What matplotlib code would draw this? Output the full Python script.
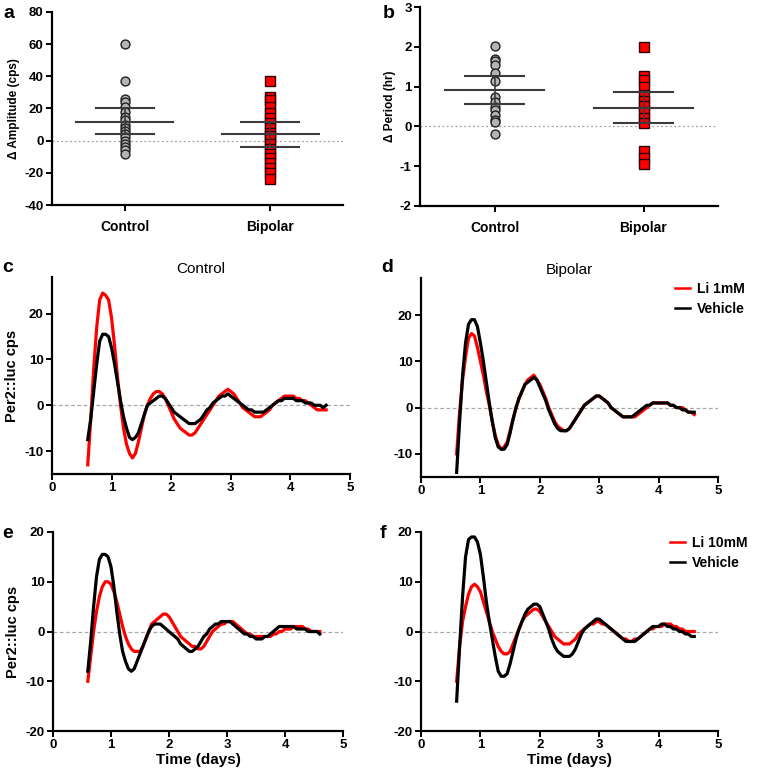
import matplotlib
matplotlib.use("Agg")
import matplotlib.pyplot as plt
import numpy as np

plt.rcParams['font.family'] = ['Liberation Sans', 'DejaVu Sans']
plt.rcParams['font.weight'] = 'bold'
plt.rcParams['axes.unicode_minus'] = False

# ---------------- data: scatter panels ----------------
groups = ["Control", "Bipolar"]
amp_control = [60, 37, 26, 24, 21, 18, 15, 13, 10, 8, 6, 4, 2, 0, -2, -4, -6, -8]
amp_bipolar = [37, 27, 25, 21, 17, 14, 11, 8, 5, 3, 1, -2, -5, -8, -11, -14, -17, -20, -24]
amp_mean = [11.9, 4.2]
amp_sem_hi = [20.0, 11.8]
amp_sem_lo = [4.0, -3.7]

per_control = [2.03, 1.70, 1.64, 1.55, 1.35, 1.15, 0.75, 0.62, 0.48, 0.40, 0.28, 0.15, 0.10, -0.20]
per_bipolar = [2.0, 1.27, 1.17, 1.0, 0.80, 0.65, 0.5, 0.35, 0.2, 0.08, -0.62, -0.80, -0.95]
per_mean = [0.92, 0.46]
per_sem_hi = [1.26, 0.87]
per_sem_lo = [0.57, 0.08]

# ---------------- data: time courses (days, cps) ----------------
time_days = [0.60, 0.65, 0.70, 0.75, 0.80, 0.85, 0.90, 0.95, 1.00, 1.05,
             1.10, 1.15, 1.20, 1.25, 1.30, 1.35, 1.40, 1.45, 1.50, 1.55,
             1.60, 1.65, 1.70, 1.75, 1.80, 1.85, 1.90, 1.95, 2.00, 2.05,
             2.10, 2.15, 2.20, 2.25, 2.30, 2.35, 2.40, 2.45, 2.50, 2.55,
             2.60, 2.65, 2.70, 2.75, 2.80, 2.85, 2.90, 2.95, 3.00, 3.05,
             3.10, 3.15, 3.20, 3.25, 3.30, 3.35, 3.40, 3.45, 3.50, 3.55,
             3.60, 3.65, 3.70, 3.75, 3.80, 3.85, 3.90, 3.95, 4.00, 4.05,
             4.10, 4.15, 4.20, 4.25, 4.30, 4.35, 4.40, 4.45, 4.50, 4.55, 4.60]

c_li1 = [-13, -3, 8, 17, 23, 24.5, 24, 23, 19, 13,
         6, 0, -5, -8.5, -10.5, -11.5, -10.5, -8, -5, -2,
         0, 1.5, 2.5, 3, 3, 2.5, 1.5, 0, -1.5, -3,
         -4, -5, -5.5, -6, -6.5, -6.5, -6, -5, -4, -3,
         -2, -1, 0, 1, 2, 2.5, 3, 3.5, 3, 2.5,
         1.5, 0.5, -0.5, -1, -1.5, -2, -2.5, -2.5, -2.5, -2,
         -1.5, -1, 0, 0.5, 1, 1.5, 2, 2, 2, 2,
         1.5, 1.5, 1, 1, 0.5, 0, -0.5, -1, -1, -1, -1]
c_veh = [-7.5, -3, 3, 9, 14, 15.5, 15.5, 15, 12.5, 9,
         5, 1, -2.5, -5, -7, -7.5, -7, -6, -4, -2,
         0, 0.5, 1, 1.5, 2, 2, 1.5, 0.5, -0.5, -1.5,
         -2, -2.5, -3, -3.5, -4, -4, -4, -3.5, -3, -2,
         -1, -0.5, 0.5, 1, 1.5, 2, 2, 2.5, 2, 1.5,
         1, 0.5, 0, -0.5, -1, -1, -1.5, -1.5, -1.5, -1.5,
         -1, -0.5, 0, 0.5, 1, 1, 1.5, 1.5, 1.5, 1.5,
         1, 1, 1, 0.5, 0.5, 0.5, 0, 0, 0, -0.5, 0]

d_li1 = [-10, -1, 6, 11, 15, 16, 15.5, 13, 10, 7,
         3.5, 0.5, -3, -6, -8, -9, -8.5, -7.5, -5, -2.5,
         0, 2, 3.5, 5, 6, 6.5, 7, 6, 5, 3.5,
         2, 0, -1.5, -3, -4, -4.5, -5, -5, -4.5, -3.5,
         -2.5, -1.5, -0.5, 0.5, 1, 1.5, 2, 2.5, 2.5, 2,
         1.5, 1, 0, -0.5, -1, -1.5, -2, -2, -2, -2,
         -2, -1.5, -1, -0.5, 0, 0.5, 1, 1, 1, 1,
         1, 1, 0.5, 0.5, 0, 0, 0, -0.5, -1, -1, -1.5]
d_veh = [-14, -3, 7, 14, 18, 19, 19, 17.5, 14, 10,
         5.5, 1, -3, -6.5, -8.5, -9, -9, -8, -5.5, -2.5,
         0, 2, 3.5, 5, 5.5, 6, 6.5, 6, 4.5, 3,
         1.5, -0.5, -2, -3.5, -4.5, -5, -5, -5, -4.5, -3.5,
         -2.5, -1.5, -0.5, 0.5, 1, 1.5, 2, 2.5, 2.5, 2,
         1.5, 1, 0, -0.5, -1, -1.5, -2, -2, -2, -2,
         -1.5, -1, -0.5, 0, 0.5, 0.5, 1, 1, 1, 1,
         1, 1, 0.5, 0.5, 0, 0, -0.5, -0.5, -1, -1, -1]

e_li10 = [-10, -5, 0, 4, 7, 9, 10, 10, 9.5, 8,
          6, 3.5, 1, -1, -2.5, -3.5, -4, -4, -4, -3,
          -1.5, 0, 1.5, 2, 2.5, 3, 3.5, 3.5, 3, 2,
          1, 0, -1, -1.5, -2, -2.5, -3, -3, -3.5, -3.5,
          -3, -2, -1, 0, 0.5, 1, 1.5, 1.5, 2, 2,
          2, 1.5, 1, 0.5, 0, -0.5, -0.5, -1, -1, -1,
          -1, -1, -1, -1, -0.5, -0.5, 0, 0, 0.5, 0.5,
          0.5, 1, 1, 1, 1, 0.5, 0.5, 0, 0, 0, 0]
e_veh = [-8, -2, 5, 11, 14.5, 15.5, 15.5, 15, 13, 9,
         4, -0.5, -4, -6, -7.5, -8, -7.5, -6, -4.5, -3,
         -1.5, 0, 1, 1.5, 1.5, 1.5, 1, 0.5, 0, -0.5,
         -1, -1.5, -2.5, -3, -3.5, -4, -4, -3.5, -3, -2,
         -1, -0.5, 0.5, 1, 1.5, 1.5, 2, 2, 2, 2,
         1.5, 1, 0.5, 0, -0.5, -0.5, -1, -1, -1.5, -1.5,
         -1.5, -1, -1, -0.5, 0, 0.5, 1, 1, 1, 1,
         1, 1, 0.5, 0.5, 0.5, 0.5, 0, 0, 0, 0, -0.5]

f_li10 = [-10, -3, 2, 5, 7.5, 9, 9.5, 9, 8, 6,
          4, 2, 0, -1.5, -3, -4, -4.5, -4.5, -4, -2.5,
          -1, 0.5, 2, 3, 3.5, 4, 4.5, 4.5, 4, 3,
          2, 1, 0, -1, -1.5, -2, -2.5, -2.5, -2.5, -2,
          -1.5, -0.5, 0, 0.5, 1, 1.5, 1.5, 2, 2, 1.5,
          1.5, 1, 0.5, 0, -0.5, -1, -1.5, -1.5, -2, -2,
          -1.5, -1.5, -1, -0.5, 0, 0.5, 0.5, 1, 1, 1,
          1.5, 1.5, 1.5, 1, 1, 0.5, 0.5, 0, 0, 0, 0]
f_veh = [-14, -3, 7, 15, 18.5, 19, 19, 18, 15.5, 11,
         6, 2, -1.5, -5, -8, -9, -9, -8.5, -6.5, -4,
         -1.5, 0.5, 2, 3.5, 4.5, 5, 5.5, 5.5, 5, 3.5,
         2, 0.5, -1.5, -3, -4, -4.5, -5, -5, -5, -4.5,
         -3.5, -2, -0.5, 0.5, 1, 1.5, 2, 2.5, 2.5, 2,
         1.5, 1, 0.5, 0, -0.5, -1, -1.5, -2, -2, -2,
         -2, -1.5, -1, -0.5, 0, 0.5, 1, 1, 1, 1.5,
         1.5, 1, 1, 0.5, 0.5, 0, 0, -0.5, -0.5, -1, -1]

legend_top = ["Li 1mM", "Vehicle"]
legend_bottom = ["Li 10mM", "Vehicle"]

# ---------------- figure ----------------
W, H = 758, 776
fig = plt.figure(figsize=(W / 100, H / 100), dpi=100)

def axes_px(left, top, right, bottom):
    return fig.add_axes([left / W, 1 - bottom / H, (right - left) / W, (bottom - top) / H])

def style(ax):
    for s in ['top', 'right']:
        ax.spines[s].set_visible(False)
    for s in ['left', 'bottom']:
        ax.spines[s].set_linewidth(1.6)
    ax.tick_params(width=1.4, length=4, labelsize=9.5, pad=2)

GRAY_M = '#b4b4b4'
RED = '#ff0000'
LINEC = '#3c3c3c'

def scatter_panel(ax, ctrl, bip, mean, hi, lo, ylim, yticks, ylabel):
    ax.plot(np.zeros(len(ctrl)), ctrl, 'o', ms=6.4, mfc=GRAY_M, mec='#202020', mew=1.0, zorder=3)
    ax.plot(np.ones(len(bip)), bip, 's', ms=6.6, mfc=RED, mec='#300000', mew=1.0, zorder=3)
    for i in range(2):
        ax.plot([i - 0.335, i + 0.335], [mean[i]] * 2, color=LINEC, lw=1.5, zorder=4)
        ax.plot([i - 0.2, i + 0.2], [hi[i]] * 2, color=LINEC, lw=1.5, zorder=4)
        ax.plot([i - 0.2, i + 0.2], [lo[i]] * 2, color=LINEC, lw=1.5, zorder=4)
        ax.plot([i, i], [lo[i], hi[i]], color=LINEC, lw=1.2, zorder=4)
    ax.axhline(0, color='#a0a0a0', lw=0.9, ls=(0, (1.5, 2)), zorder=1)
    ax.set_xlim(-0.5, 1.5)
    ax.set_ylim(*ylim)
    ax.set_yticks(yticks)
    ax.set_xticks([0, 1])
    ax.set_xticklabels(groups)
    ax.set_ylabel(ylabel, fontsize=8.5, fontweight='bold', labelpad=3)
    style(ax)
    ax.tick_params(axis='x', labelsize=10, pad=7)

ax_a = axes_px(52, 12, 343, 205)
scatter_panel(ax_a, amp_control, amp_bipolar, amp_mean, amp_sem_hi, amp_sem_lo,
              (-40, 80), [-40, -20, 0, 20, 40, 60, 80], "Δ Amplitude (cps)")
ax_b = axes_px(420, 7, 718, 206)
scatter_panel(ax_b, per_control, per_bipolar, per_mean, per_sem_hi, per_sem_lo,
              (-2, 3), [-2, -1, 0, 1, 2, 3], "Δ Period (hr)")

def trace_panel(ax, li, veh, ylim, yticks, ylabel=None, title=None, xlabel=None):
    ax.axhline(0, color='#a8a8a8', lw=0.9, ls=(0, (3, 2)), zorder=1)
    ax.plot(time_days, li, color=RED, lw=2.3, zorder=2)
    ax.plot(time_days, veh, color='black', lw=2.3, zorder=3)
    ax.set_xlim(0, 5)
    ax.set_ylim(*ylim)
    ax.set_yticks(yticks)
    ax.set_xticks([0, 1, 2, 3, 4, 5])
    if ylabel:
        ax.set_ylabel(ylabel, fontsize=10.5, fontweight='bold', labelpad=4)
    if title:
        ax.set_title(title, fontsize=11, fontweight='normal', pad=3)
    if xlabel:
        ax.set_xlabel(xlabel, fontsize=11, fontweight='bold', labelpad=1)
    style(ax)

ax_c = axes_px(52, 277, 350, 474)
trace_panel(ax_c, c_li1, c_veh, (-15, 28), [-10, 0, 10, 20], ylabel="Per2::luc cps", title="Control")
ax_d = axes_px(421, 278, 718, 477)
trace_panel(ax_d, d_li1, d_veh, (-15, 28), [-10, 0, 10, 20], title="Bipolar")
ax_e = axes_px(53, 532, 343, 731)
trace_panel(ax_e, e_li10, e_veh, (-20, 20), [-20, -10, 0, 10, 20], ylabel="Per2::luc cps", xlabel="Time (days)")
ax_f = axes_px(421, 532, 718, 731)
trace_panel(ax_f, f_li10, f_veh, (-20, 20), [-20, -10, 0, 10, 20], xlabel="Time (days)")

def legend_px(labels, x, y):
    handles = [plt.Line2D([], [], color=RED, lw=1.8), plt.Line2D([], [], color='black', lw=1.8)]
    leg = fig.legend(handles, labels, loc='upper left', bbox_to_anchor=(x / W, 1 - y / H),
                     frameon=False, handlelength=1.1, handletextpad=0.5, labelspacing=0.45,
                     borderaxespad=0, borderpad=0, prop={'weight': 'bold', 'size': 10})
    return leg

legend_px(legend_top, 675, 282)
legend_px(legend_bottom, 670, 536)

# panel letters
for lab, x, y in [("a", 3, 14), ("b", 383, 14), ("c", 2, 268), ("d", 381, 268), ("e", 2, 533), ("f", 380, 533)]:
    fig.text(x / W, 1 - y / H, lab, fontsize=14, fontweight='bold', va='center', ha='left')

fig.savefig("out.png", dpi=100)
